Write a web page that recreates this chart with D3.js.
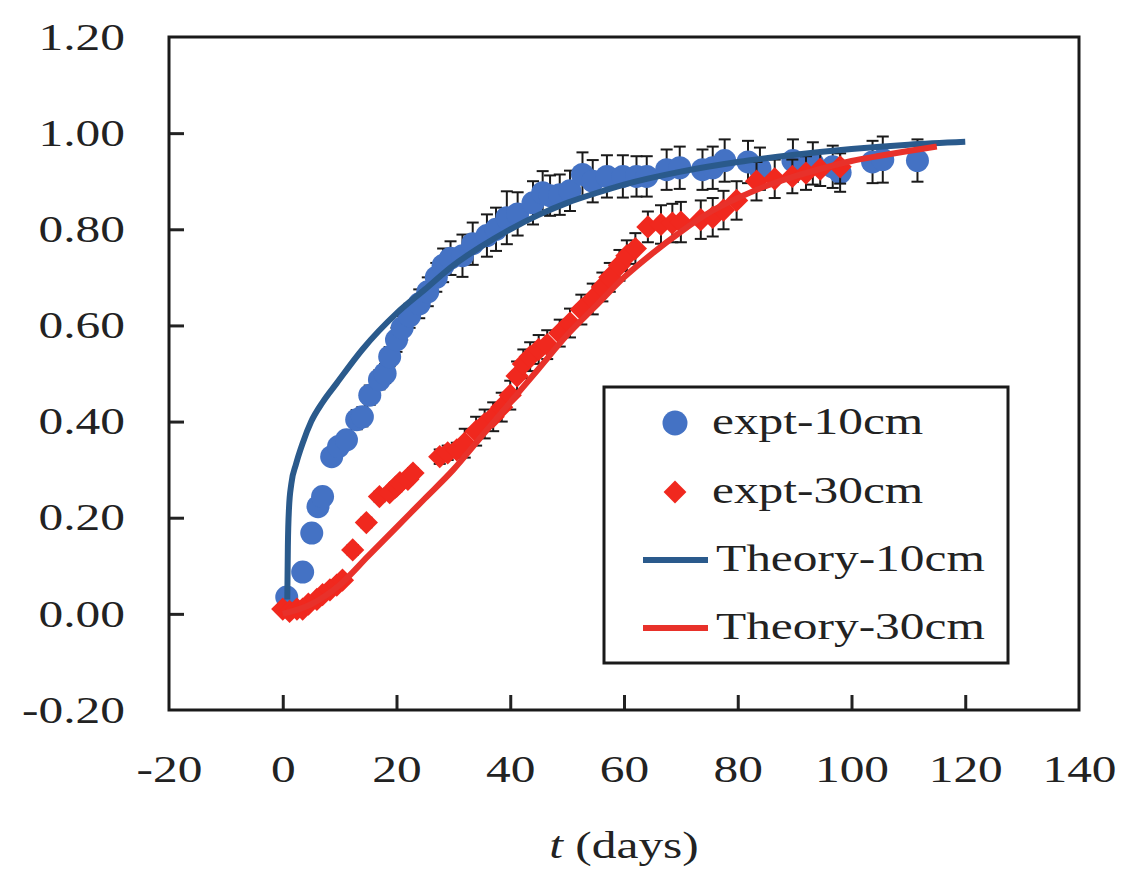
<!DOCTYPE html>
<html>
<head>
<meta charset="utf-8">
<script src="https://d3js.org/d3.v7.min.js"></script>
<style>
  body { margin: 0; background: #fff; }
  svg text { font-family: "Liberation Serif", "Times New Roman", serif; fill: #222; }
</style>
</head>
<body>
<svg width="1135" height="874" class="chart"></svg>
<script>
  // axis ticks
  const xTicks = [-20, 0, 20, 40, 60, 80, 100, 120, 140];
  const yTicks = [-0.2, 0, 0.2, 0.4, 0.6, 0.8, 1.0, 1.2];

  // expt-10cm: time (days), value, error
  const t10 = [0.7, 3.5, 5.1, 6.2, 7.0, 8.6, 9.8, 11.2, 13, 14, 15.3, 17, 18, 18.8, 20, 21, 22.3, 24, 25.5, 27, 28.2, 29.5,
    31.6, 33.4, 35.9, 37.5, 39.4, 41.3, 44, 45.7, 47, 48.7, 50.5, 52.7, 54.5, 57, 59.8, 62.2, 64, 67.5, 69.8, 73.8, 75.6,
    77.7, 81.8, 83.9, 89.7, 93.2, 96.7, 98, 103.7, 105.5, 111.6];
  const v10 = [0.035, 0.087, 0.168, 0.223, 0.244, 0.327, 0.348, 0.362, 0.404, 0.41, 0.455, 0.487, 0.50, 0.535, 0.57, 0.595, 0.62, 0.645, 0.67, 0.70, 0.725, 0.74,
    0.745, 0.77, 0.787, 0.80, 0.824, 0.832, 0.855, 0.876, 0.87, 0.872, 0.88, 0.914, 0.90, 0.91, 0.91, 0.91, 0.91, 0.924, 0.928, 0.924, 0.928,
    0.943, 0.94, 0.926, 0.943, 0.937, 0.93, 0.918, 0.94, 0.945, 0.943];
  const e10 = [0.01, 0.01, 0.01, 0.01, 0.01, 0.015, 0.015, 0.015, 0.02, 0.02, 0.02, 0.02, 0.02, 0.02, 0.025, 0.025, 0.025, 0.03, 0.03, 0.03, 0.035, 0.035,
    0.044, 0.044, 0.044, 0.045, 0.055, 0.045, 0.045, 0.045, 0.042, 0.042, 0.042, 0.046, 0.044, 0.044, 0.044, 0.042, 0.042, 0.042, 0.044, 0.042, 0.044,
    0.044, 0.044, 0.044, 0.044, 0.044, 0.044, 0.04, 0.044, 0.048, 0.044];

  // expt-30cm
  const t30 = [0, 1.2, 2.5, 3.5, 4.5, 6, 7, 8.3, 9.5, 10.5, 12.3, 14.7, 17, 18.8, 20, 20.6, 22, 22.9, 27.6, 29, 30.6,
    32, 34, 35.5, 37, 38.5, 40, 41.2, 42.3, 43.5, 45, 46.5, 48.7, 50.5, 52.5, 54.5, 56.2, 57.5, 59.2, 60.5, 62, 64.2,
    66.5, 68.5, 70, 73.5, 75.6, 77.5, 79.8, 83.3, 86.5, 89.6, 92, 94.5, 98];
  const v30 = [0.01, 0.005, 0.01, 0.01, 0.02, 0.03, 0.04, 0.05, 0.06, 0.07, 0.133, 0.19, 0.244, 0.252, 0.265, 0.273, 0.28, 0.293, 0.327, 0.335, 0.341,
    0.355, 0.38, 0.395, 0.41, 0.43, 0.455, 0.495, 0.52, 0.535, 0.55, 0.56, 0.584, 0.605, 0.633, 0.655, 0.68, 0.70, 0.725, 0.745, 0.76, 0.805,
    0.81, 0.813, 0.815, 0.82, 0.825, 0.84, 0.86, 0.90, 0.905, 0.91, 0.917, 0.925, 0.93];
  const e30 = [0.005, 0.005, 0.005, 0.005, 0.005, 0.005, 0.005, 0.005, 0.005, 0.005, 0.01, 0.01, 0.01, 0.01, 0.01, 0.01, 0.01, 0.01, 0.015, 0.015, 0.015,
    0.03, 0.03, 0.03, 0.03, 0.03, 0.03, 0.03, 0.03, 0.03, 0.03, 0.03, 0.028, 0.03, 0.031, 0.032, 0.03, 0.03, 0.032, 0.032, 0.032, 0.032,
    0.04, 0.04, 0.042, 0.04, 0.04, 0.04, 0.04, 0.04, 0.04, 0.035, 0.035, 0.035, 0.035];

  // theory curves
  const tTh10 = [0.8, 0.9, 1.1, 1.5, 2.3, 3.5, 5, 7, 9.5, 14, 20, 25, 30, 35, 40, 45, 50, 55, 60, 70, 80, 90, 100, 110, 120];
  const vTh10 = [0.03, 0.14, 0.22, 0.27, 0.31, 0.355, 0.40, 0.44, 0.48, 0.55, 0.625, 0.675, 0.725, 0.765, 0.80, 0.83, 0.855, 0.875, 0.893, 0.92, 0.94, 0.955, 0.967, 0.976, 0.982];
  const tTh30 = [0, 5, 10, 15, 20, 25, 30, 35, 40, 45, 50, 55, 60, 65, 70, 75, 80, 85, 90, 95, 100, 105, 110, 115];
  const vTh30 = [0, 0.02, 0.06, 0.12, 0.18, 0.24, 0.30, 0.37, 0.44, 0.51, 0.58, 0.64, 0.70, 0.75, 0.795, 0.835, 0.865, 0.89, 0.91, 0.927, 0.942, 0.953, 0.963, 0.972];

  const seriesNames = ["expt-10cm", "expt-30cm", "Theory-10cm", "Theory-30cm"];

  const blueDot = "#4472c4";
  const redDot = "#f0281e";
  const blueLine = "#2a5a8c";
  const redLine = "#e8312a";
  const sx = 1.3; // glyphs in the picture are wide
  const fontSize = "38px";

  const svg = d3.select(".chart");
  const plotLeft = 169, plotRight = 1079, plotTop = 37, plotBottom = 710;

  const x = d3.scaleLinear().domain([-20, 140]).range([plotLeft, plotRight]);
  const y = d3.scaleLinear().domain([-0.2, 1.2]).range([plotBottom, plotTop]);

  const pts10 = t10.map((t, i) => ({t: t, v: v10[i], e: e10[i]}));
  const pts30 = t30.map((t, i) => ({t: t, v: v30[i], e: e30[i]}));

  // plain hyphen for negatives, like the source
  const fmtY = d => d3.format(".2f")(d).replace("\u2212", "-");
  const fmtX = d => d3.format("d")(d).replace("\u2212", "-");

  // axes with inward ticks
  const yAxis = svg.append("g")
    .attr("transform", "translate(" + plotLeft + ",0)")
    .call(d3.axisLeft(y).tickValues(yTicks).tickSize(-15).tickPadding(44).tickFormat(fmtY));
  const xAxis = svg.append("g")
    .attr("transform", "translate(0," + plotBottom + ")")
    .call(d3.axisBottom(x).tickValues(xTicks).tickSize(-15).tickPadding(45).tickFormat(fmtX));

  [yAxis, xAxis].forEach(g => {
    g.select(".domain").remove();
    g.selectAll(".tick line").attr("stroke", "#222").attr("stroke-width", 3);
    g.selectAll(".tick text").style("font-size", fontSize).attr("fill", "#222")
      .style("font-family", "Liberation Serif, serif");
  });
  yAxis.selectAll(".tick text").attr("x", -44 / sx).attr("transform", "scale(" + sx + ",1)");
  xAxis.selectAll(".tick text").attr("transform", "scale(" + sx + ",1)");
  yAxis.selectAll(".tick").filter(d => d > 1.1 || d < -0.1).select("line").remove();
  xAxis.selectAll(".tick").filter(d => d < -10 || d > 130).select("line").remove();

  // plot frame
  svg.append("rect")
    .attr("x", plotLeft).attr("y", plotTop)
    .attr("width", plotRight - plotLeft).attr("height", plotBottom - plotTop)
    .attr("fill", "none").attr("stroke", "#1a1a1a").attr("stroke-width", 3);

  // error bars
  function errorBars(data, cls) {
    const g = svg.append("g").attr("class", cls).attr("stroke", "#1a1a1a").attr("stroke-width", 2);
    g.selectAll("line.v").data(data).enter().append("line")
      .attr("x1", d => x(d.t)).attr("x2", d => x(d.t))
      .attr("y1", d => y(d.v - d.e)).attr("y2", d => y(d.v + d.e));
    g.selectAll("line.top").data(data).enter().append("line")
      .attr("x1", d => x(d.t) - 6).attr("x2", d => x(d.t) + 6)
      .attr("y1", d => y(d.v + d.e)).attr("y2", d => y(d.v + d.e));
    g.selectAll("line.bot").data(data).enter().append("line")
      .attr("x1", d => x(d.t) - 6).attr("x2", d => x(d.t) + 6)
      .attr("y1", d => y(d.v - d.e)).attr("y2", d => y(d.v - d.e));
  }
  errorBars(pts10, "err10");

  svg.append("g").selectAll("circle").data(pts10).enter().append("circle")
    .attr("cx", d => x(d.t)).attr("cy", d => y(d.v)).attr("r", 11.5)
    .attr("fill", blueDot);

  errorBars(pts30, "err30");

  const diamond = d3.symbol().type(d3.symbolSquare).size(270);
  svg.append("g").selectAll("path").data(pts30).enter().append("path")
    .attr("d", diamond)
    .attr("transform", d => "translate(" + x(d.t) + "," + y(d.v) + ") rotate(45)")
    .attr("fill", redDot);

  // theory lines
  const line = d3.line().x(d => x(d[0])).y(d => y(d[1])).curve(d3.curveMonotoneX);
  svg.append("path")
    .datum(tTh10.map((t, i) => [t, vTh10[i]]))
    .attr("d", line).attr("fill", "none").attr("stroke", blueLine).attr("stroke-width", 6);
  svg.append("path")
    .datum(tTh30.map((t, i) => [t, vTh30[i]]))
    .attr("d", line).attr("fill", "none").attr("stroke", redLine).attr("stroke-width", 6);

  // legend
  const lg = svg.append("g");
  lg.append("rect").attr("x", 604).attr("y", 387).attr("width", 404).attr("height", 276)
    .attr("fill", "#fff").attr("stroke", "#1a1a1a").attr("stroke-width", 3);
  const rows = [423, 492, 560, 628];
  lg.append("circle").attr("cx", 675).attr("cy", rows[0]).attr("r", 12.5).attr("fill", blueDot);
  lg.append("path").attr("d", d3.symbol().type(d3.symbolSquare).size(260))
    .attr("transform", "translate(675," + rows[1] + ") rotate(45)").attr("fill", redDot);
  lg.append("line").attr("x1", 643).attr("x2", 708).attr("y1", rows[2]).attr("y2", rows[2])
    .attr("stroke", blueLine).attr("stroke-width", 6);
  lg.append("line").attr("x1", 643).attr("x2", 708).attr("y1", rows[3]).attr("y2", rows[3])
    .attr("stroke", redLine).attr("stroke-width", 6);
  const textX = [712, 712, 716, 716];
  seriesNames.forEach((name, i) => {
    lg.append("text")
      .attr("transform", "translate(" + textX[i] + "," + (rows[i] + 11) + ") scale(" + sx + ",1)")
      .style("font-size", fontSize)
      .text(name);
  });

  // x axis title
  const title = svg.append("text")
    .attr("transform", "translate(" + (plotLeft + plotRight) / 2 + ",858) scale(" + sx + ",1)")
    .attr("text-anchor", "middle")
    .style("font-size", fontSize);
  title.append("tspan").style("font-style", "italic").text("t");
  title.append("tspan").text(" (days)");
</script>
</body>
</html>
